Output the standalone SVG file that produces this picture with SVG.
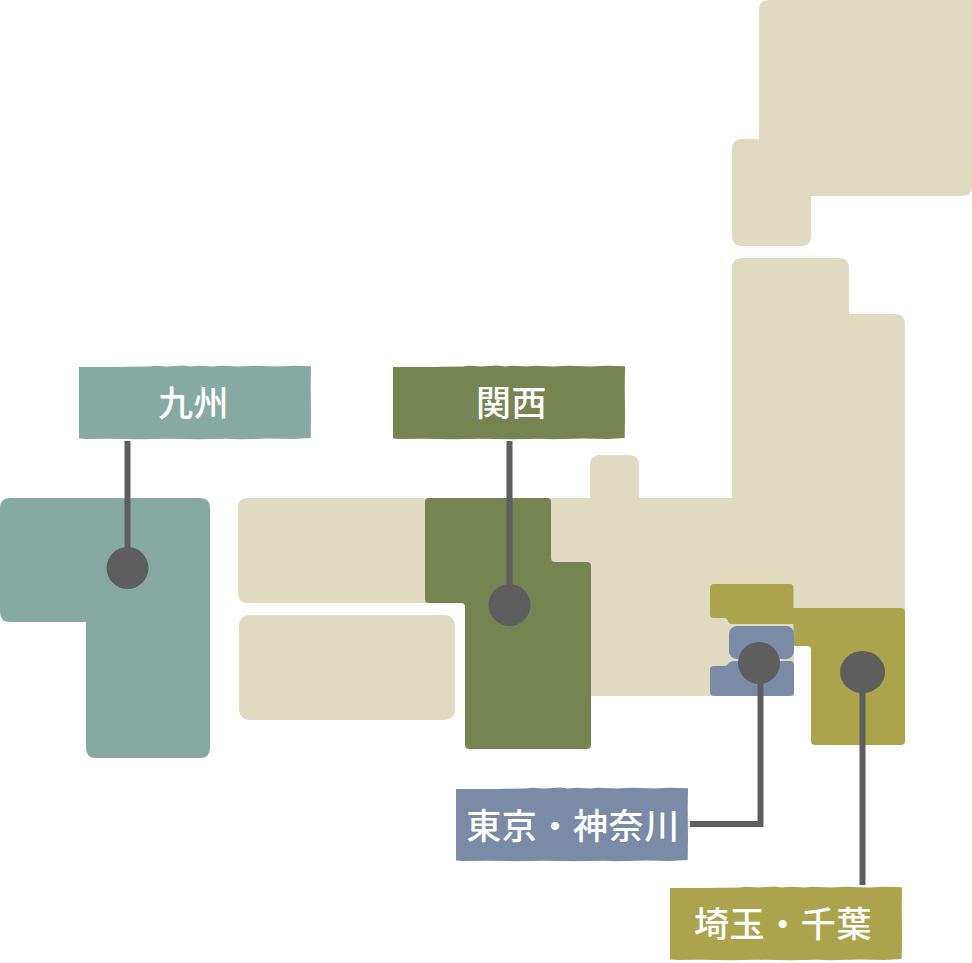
<svg xmlns="http://www.w3.org/2000/svg" width="972" height="963" viewBox="0 0 972 963">
<style>
.land{fill:#dfdac0}
.kyushu{fill:#86aaa2}
.kansai{fill:#768452}
.saitama{fill:#aba44d}
.tokyo{fill:#798ba7}
.label{font-family:"Noto Sans CJK JP","Noto Sans CJK SC",sans-serif;font-size:35px;font-weight:500;fill:#fff;text-anchor:middle;letter-spacing:.6px}
.line{fill:none;stroke:#5e5e5e;stroke-width:6}
.dot{fill:#5e5e5e}
</style>
<defs>
<path id="tag" d="M0 1 L40 1 L48 .7 L70 .5 L76 -.2 L88 .4 L104 -.4 L112 .5 L120 -.2 L134 .5 L142 -.2 L160 .4 L176 -.2 L198 .5 L214 -.2 L232 .2 L231.700 20 L232 50 L231.700 72 L214 73 L190 72.600 L160 73.300 L148 72.800 L120 73.200 L88 72.800 L60 73.200 L30 72.800 L8 73 L0 72.400 Z"/>
</defs>
<g id="land">
<path id="hokkaido" class="land" d="M769 0H972V186Q972 196 962 196H811V236Q811 246 801 246H742Q732 246 732 236V149Q732 139 742 139H759V10Q759 0 769 0Z"/>
<path id="honshu" class="land" d="M742 258H839Q849 258 849 268V314H895Q905 314 905 324V620H794V696H540V498H590V465Q590 455 600 455H629Q639 455 639 465V498H732V268Q732 258 742 258Z"/>
<path id="chugoku" class="land" d="M248 498H440V603H248Q238 603 238 593V508Q238 498 248 498Z"/>
<rect id="shikoku" class="land" x="239" y="615" width="216" height="105" rx="10"/>
</g>
<g id="region-kyushu">
<path class="kyushu" d="M10 498H200Q210 498 210 508V748Q210 758 200 758H96Q86 758 86 748V622H10Q0 622 0 612V508Q0 498 10 498Z"/>
</g>
<g id="region-kansai">
<path class="kansai" d="M429 498H547Q551 498 551 502V558Q551 562 555 562H587Q591 562 591 566V745Q591 749 587 749H469Q465 749 465 745V607Q465 603 461 603H429Q425 603 425 599V502Q425 498 429 498Z"/>
</g>
<g id="region-saitama">
<path class="saitama" d="M714 584H790Q793.500 584 793.500 588V608H901Q905 608 905 612V741Q905 745 901 745H815Q811 745 811 741V650Q811 646 807 646H793.500V624H732Q729 624 728 621Q727 618 724 618H714Q710 618 710 614V588Q710 584 714 584Z"/>
</g>
<g id="region-tokyo">
<rect class="tokyo" x="729" y="626" width="65" height="33" rx="8"/>
<path class="tokyo" d="M735 661H790Q794 661 794 665V692Q794 696 790 696H714Q710 696 710 692V670Q710 666 714 666H724Q727 666 728 664Q730 661 735 661Z"/>
</g>
<g id="connectors">
<path class="line" d="M127.500 441V568"/>
<path class="line" d="M509.500 441V605"/>
<path class="line" d="M690 824H760.500V663"/>
<path class="line" d="M862.500 672V885"/>
</g>
<g id="dots">
<circle class="dot" cx="127.500" cy="568" r="21"/>
<circle class="dot" cx="509.500" cy="605" r="21"/>
<circle class="dot" cx="759" cy="663" r="21"/>
<ellipse class="dot" cx="862.500" cy="672" rx="22.500" ry="21"/>
</g>
<g id="label-kyushu">
<use href="#tag" x="79" y="366" class="kyushu"/>
<text class="label" x="193.500" y="416">九州</text>
</g>
<g id="label-kansai">
<use href="#tag" x="393" y="366" class="kansai"/>
<text class="label" x="511.500" y="416">関西</text>
</g>
<g id="label-tokyo">
<use href="#tag" x="456" y="788" class="tokyo"/>
<text class="label" x="573" y="839">東京・神奈川</text>
</g>
<g id="label-saitama">
<use href="#tag" x="670" y="887" class="saitama"/>
<text class="label" x="783" y="937">埼玉・千葉</text>
</g>
</svg>
